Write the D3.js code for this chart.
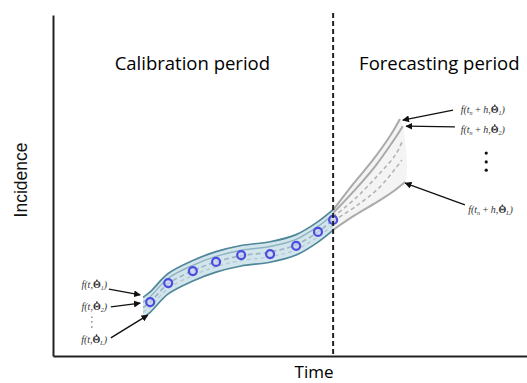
<!DOCTYPE html>
<html>
<head>
<meta charset="utf-8">
<script src="https://cdn.jsdelivr.net/npm/d3@7"></script>
<style>
  body { margin: 0; background: #fff; }
  svg { display: block; }
</style>
</head>
<body>
<div id="chart"></div>
<script>
/***** Data (time / incidence, arbitrary units) *****/
var forecastStart = 59.1;

// observed points in the calibration period
var obsT = [20.5, 24.3, 29.5, 34.4, 39.7, 45.8, 51.3, 55.9, 59.1];
var obsY = [15.8, 21.4, 24.9, 27.6, 29.6, 29.9, 32.3, 36.4, 39.9];

// calibrated fits f(t, theta_i)
var fitT      = [19, 20.5, 24.3, 29.5, 34.4, 39.7, 45.8, 51.3, 55.9, 59.1];
var fitUpper  = [17.2, 18.8, 24.2, 28.0, 30.6, 32.4, 33.5, 35.6, 39.4, 42.9];
var fitInner  = [15.8, 17.4, 22.8, 26.6, 29.2, 31.0, 32.1, 34.2, 38.0, 41.5];
var fitCenter = [14.2, 15.8, 21.2, 25.0, 27.6, 29.4, 30.5, 32.6, 36.4, 39.9];
var fitInner2 = [12.8, 14.4, 19.8, 23.6, 26.2, 28.0, 29.1, 31.2, 35.0, 38.5];
var fitLower  = [11.2, 12.8, 18.2, 22.0, 24.6, 26.4, 27.5, 29.6, 33.4, 36.9];

// forecasts f(tn + h, theta_i)
var fc1T = [59.1, 63.3, 67.5, 71.1, 73.2];
var fc1Y = [42.8, 50.4, 57.5, 64.5, 69.5];
var fc2T = [59.1, 63.7, 68.0, 71.5, 73.8];
var fc2Y = [41.9, 48.7, 55.7, 62.5, 67.4];
var fc3T = [59.1, 64.1, 68.6, 72.2, 73.8];
var fc3Y = [40.8, 46.6, 53.1, 58.9, 63.3];
var fc4T = [59.1, 64.3, 69.0, 73.6];
var fc4Y = [39.6, 44.3, 49.6, 57.5];
var fcLT = [59.1, 63.7, 69.0, 72.2, 74.3];
var fcLY = [37.0, 41.3, 45.7, 48.7, 51.0];

// annotation labels (subscripts) and anchors
var calSubs = ["1", "2", "L"];
var calLabelT = 11.4;
var calLabelY = [19.9, 13.5, 3.8];
var calArrowFrom = [[11.8, 19.6], [12.2, 14.4], [12.2, 5.3]];
var calArrowTo   = [[18.4, 17.9], [18.4, 15.5], [20.0, 12.0]];
var calDotsT = 8.2;
var calDotsY = [11.4, 10.0, 8.5];

var fcSubs = ["1", "2", "L"];
var fcLabelT = [86.0, 86.0, 87.6];
var fcLabelY = [71.2, 65.4, 41.9];
var fcArrowFrom = [[84.4, 72.1], [84.8, 67.2], [86.9, 44.3]];
var fcArrowTo   = [[73.8, 69.2], [74.5, 67.4], [74.3, 50.7]];
var fcDotsT = 91.4;
var fcDotsY = [59.5, 56.9, 54.5];

var periodNames = ["Calibration period", "Forecasting period"];
var periodCenters = [29.4, 81.5];
var xTitle = "Time";
var yTitle = "Incidence";

/***** Setup *****/
var width = 527, height = 383;
var svg = d3.select("#chart").append("svg")
  .attr("width", width)
  .attr("height", height);

var x = d3.scaleLinear().domain([0, 100]).range([53, 527]);
var y = d3.scaleLinear().domain([0, 100]).range([356, 15]);

function zip(ts, ys) {
  return ts.map(function (t, i) { return [t, ys[i]]; });
}

var line = d3.line()
  .x(function (d) { return x(d[0]); })
  .y(function (d) { return y(d[1]); })
  .curve(d3.curveCatmullRom.alpha(0.5));

svg.append("defs").append("marker")
  .attr("id", "arrow")
  .attr("viewBox", "0 0 10 10")
  .attr("refX", 9).attr("refY", 5)
  .attr("markerWidth", 7).attr("markerHeight", 7)
  .attr("markerUnits", "userSpaceOnUse")
  .attr("orient", "auto")
  .append("path")
  .attr("d", "M0,0L10,5L0,10z")
  .attr("fill", "#111");

/***** Forecast band *****/
var fcBandPts = zip(fc1T, fc1Y).concat(zip(fcLT, fcLY).reverse());
svg.append("path")
  .attr("d", line(fcBandPts) + "Z")
  .attr("fill", "#f4f4f4")
  .attr("stroke", "none");

[[fc3T, fc3Y], [fc4T, fc4Y]].forEach(function (s) {
  svg.append("path")
    .attr("d", line(zip(s[0], s[1])))
    .attr("fill", "none")
    .attr("stroke", "#b4b4b4")
    .attr("stroke-width", 1.6)
    .attr("stroke-dasharray", "4,3");
});
[[fc1T, fc1Y], [fc2T, fc2Y], [fcLT, fcLY]].forEach(function (s) {
  svg.append("path")
    .attr("d", line(zip(s[0], s[1])))
    .attr("fill", "none")
    .attr("stroke", "#aaaaaa")
    .attr("stroke-width", 2);
});

/***** Calibration band *****/
var area = d3.area()
  .x(function (d) { return x(d[0]); })
  .y0(function (d) { return y(d[2]); })
  .y1(function (d) { return y(d[1]); })
  .curve(d3.curveCatmullRom.alpha(0.5));

svg.append("path")
  .attr("d", area(fitT.map(function (t, i) { return [t, fitUpper[i], fitLower[i]]; })))
  .attr("fill", "#d3e5ec");

svg.append("path")
  .attr("d", line(zip(fitT, fitInner)))
  .attr("fill", "none").attr("stroke", "#8fb3c1").attr("stroke-width", 1.4);
svg.append("path")
  .attr("d", line(zip(fitT, fitCenter)))
  .attr("fill", "none").attr("stroke", "#9fb7c4").attr("stroke-width", 1.8)
  .attr("stroke-dasharray", "5,3");
svg.append("path")
  .attr("d", line(zip(fitT, fitInner2)))
  .attr("fill", "none").attr("stroke", "#b7c9d2").attr("stroke-width", 1.4)
  .attr("stroke-dasharray", "4,3");
[fitUpper, fitLower].forEach(function (s) {
  svg.append("path")
    .attr("d", line(zip(fitT, s)))
    .attr("fill", "none")
    .attr("stroke", "#4e8799")
    .attr("stroke-width", 1.7);
});

/***** Observations *****/
svg.selectAll("circle.obs")
  .data(zip(obsT, obsY))
  .enter().append("circle")
  .attr("class", "obs")
  .attr("cx", function (d) { return x(d[0]); })
  .attr("cy", function (d) { return y(d[1]); })
  .attr("r", 4)
  .attr("fill", "#c9d2f2")
  .attr("fill-opacity", 0.6)
  .attr("stroke", "#4b4be0")
  .attr("stroke-width", 2.2);

/***** Axes *****/
var xAxis = d3.axisBottom(x).ticks(0).tickSize(0).tickSizeOuter(0);
var yAxis = d3.axisLeft(y).ticks(0).tickSize(0).tickSizeOuter(0);

svg.append("g")
  .attr("transform", "translate(0," + y(0) + ")")
  .call(xAxis)
  .select(".domain").attr("stroke", "#222").attr("stroke-width", 2);
svg.append("g")
  .attr("transform", "translate(" + x(0) + ",0)")
  .call(yAxis)
  .select(".domain").attr("stroke", "#222").attr("stroke-width", 2);

svg.append("line")
  .attr("x1", x(forecastStart)).attr("x2", x(forecastStart))
  .attr("y1", y(100.6)).attr("y2", y(0))
  .attr("stroke", "#222")
  .attr("stroke-width", 2)
  .attr("stroke-dasharray", "5,3");

/***** Titles *****/
var titleFont = "'Open Sans', Lato, sans-serif";
periodNames.forEach(function (name, i) {
  svg.append("text")
    .attr("x", x(periodCenters[i])).attr("y", 70)
    .attr("text-anchor", "middle")
    .style("font-family", titleFont)
    .style("font-size", "18.5px")
    .attr("fill", "#000")
    .text(name);
});
svg.append("text")
  .attr("x", 314).attr("y", 378)
  .attr("text-anchor", "middle")
  .style("font-family", titleFont)
  .style("font-size", "17px")
  .attr("fill", "#000")
  .text(xTitle);
svg.append("text")
  .attr("transform", "translate(27,180) rotate(-90)")
  .attr("text-anchor", "middle")
  .style("font-family", "'Liberation Sans', Arial, sans-serif")
  .style("font-size", "17.5px")
  .attr("fill", "#111")
  .text(yTitle);

/***** Math annotations *****/
function mathLabel(px, py, anchor, sub, forecast) {
  var t = svg.append("text")
    .attr("x", px).attr("y", py)
    .attr("text-anchor", anchor)
    .style("font-family", "'Liberation Serif', 'DejaVu Serif', serif")
    .style("font-style", "italic")
    .style("font-size", "10px")
    .attr("fill", "#333");
  t.append("tspan").text("f(t");
  if (forecast) {
    t.append("tspan").attr("font-size", "6px").attr("dy", 2).text("n");
    t.append("tspan").attr("dy", -2).text("\u2009+\u2009h,");
  } else {
    t.append("tspan").text(",");
  }
  var theta = t.append("tspan").style("font-style", "normal").style("font-weight", "bold").text("\u0398");
  t.append("tspan").attr("font-size", "6px").attr("dy", 2).text(sub);
  t.append("tspan").attr("dy", -2).text(")");
  // dot accent over theta
  var bb = theta.node().getBBox();
  svg.append("circle")
    .attr("cx", bb.x + bb.width / 2)
    .attr("cy", bb.y + 1.2)
    .attr("r", 0.9)
    .attr("fill", "#333");
}

function arrow(from, to) {
  svg.append("line")
    .attr("x1", x(from[0])).attr("y1", y(from[1]))
    .attr("x2", x(to[0])).attr("y2", y(to[1]))
    .attr("stroke", "#111")
    .attr("stroke-width", 1.3)
    .attr("marker-end", "url(#arrow)");
}

calSubs.forEach(function (s, i) {
  mathLabel(x(calLabelT), y(calLabelY[i]), "end", s, false);
  arrow(calArrowFrom[i], calArrowTo[i]);
});
calDotsY.forEach(function (v) {
  svg.append("circle").attr("cx", x(calDotsT)).attr("cy", y(v)).attr("r", 0.7).attr("fill", "#444");
});

fcSubs.forEach(function (s, i) {
  mathLabel(x(fcLabelT[i]), y(fcLabelY[i]), "start", s, true);
  arrow(fcArrowFrom[i], fcArrowTo[i]);
});
fcDotsY.forEach(function (v) {
  svg.append("circle").attr("cx", x(fcDotsT)).attr("cy", y(v)).attr("r", 1.6).attr("fill", "#111");
});
</script>
</body>
</html>
